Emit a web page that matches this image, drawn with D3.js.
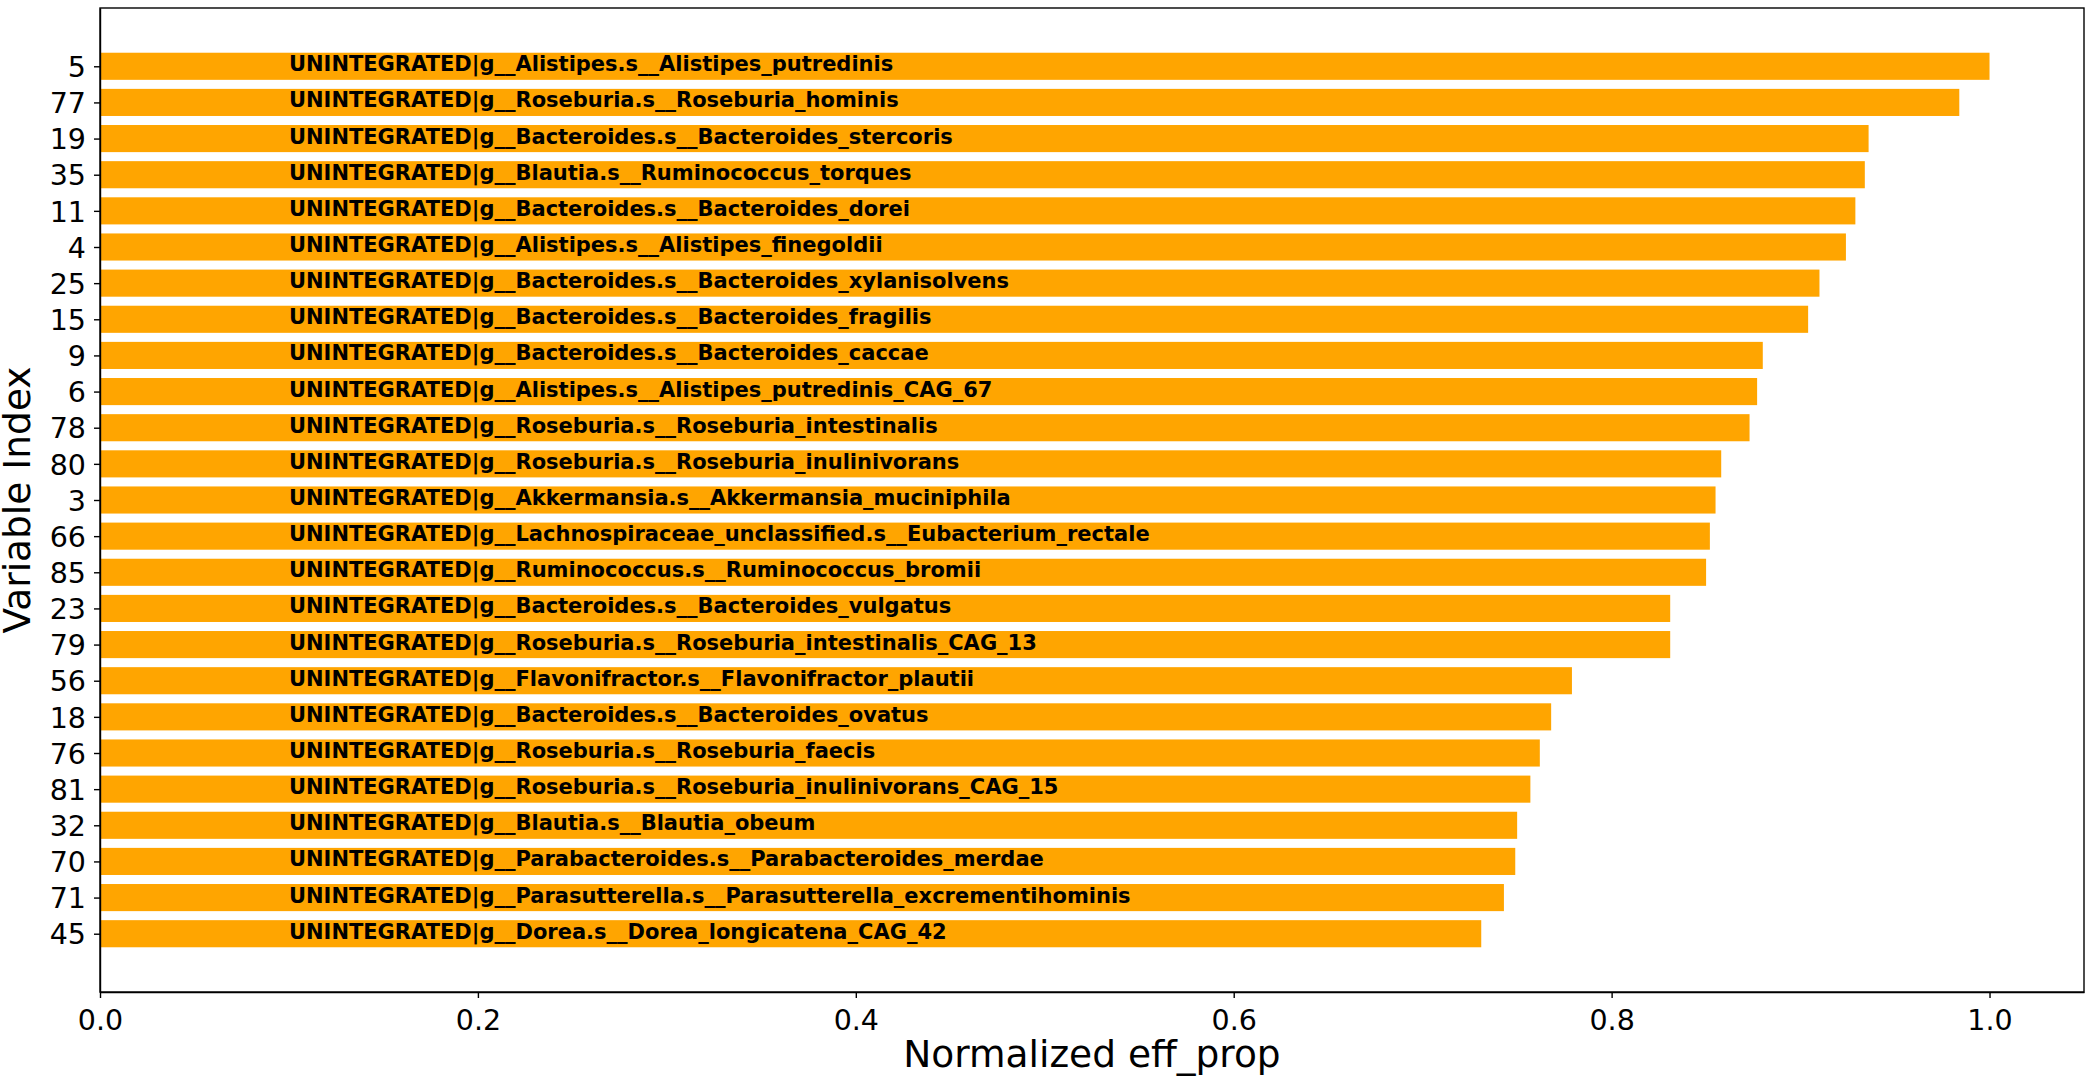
<!DOCTYPE html>
<html lang="en">
<head>
    <meta charset="UTF-8">
    <title>Normalized eff_prop</title>
    <script src="https://d3js.org/d3.v7.min.js"></script>
    <style>
        body { margin: 0; background: #fff; }
        svg text { font-family: "DejaVu Sans", sans-serif; fill: #000; }
        .axis path, .axis line { stroke: #000; stroke-width: 1.4px; }
        .axis text { font-size: 28.5px; }
        .bar-label { font-size: 21px; font-weight: bold; }
        .axis-title { font-size: 37.5px; }
    </style>
</head>
<body>
    <div id="chart"></div>
    <script>
        // values, top bar first
        const varIndex = [5, 77, 19, 35, 11, 4, 25, 15, 9, 6, 78, 80, 3, 66, 85, 23, 79, 56, 18, 76, 81, 32, 70, 71, 45];

        const featureNames = [
            "UNINTEGRATED|g__Alistipes.s__Alistipes_putredinis",
            "UNINTEGRATED|g__Roseburia.s__Roseburia_hominis",
            "UNINTEGRATED|g__Bacteroides.s__Bacteroides_stercoris",
            "UNINTEGRATED|g__Blautia.s__Ruminococcus_torques",
            "UNINTEGRATED|g__Bacteroides.s__Bacteroides_dorei",
            "UNINTEGRATED|g__Alistipes.s__Alistipes_finegoldii",
            "UNINTEGRATED|g__Bacteroides.s__Bacteroides_xylanisolvens",
            "UNINTEGRATED|g__Bacteroides.s__Bacteroides_fragilis",
            "UNINTEGRATED|g__Bacteroides.s__Bacteroides_caccae",
            "UNINTEGRATED|g__Alistipes.s__Alistipes_putredinis_CAG_67",
            "UNINTEGRATED|g__Roseburia.s__Roseburia_intestinalis",
            "UNINTEGRATED|g__Roseburia.s__Roseburia_inulinivorans",
            "UNINTEGRATED|g__Akkermansia.s__Akkermansia_muciniphila",
            "UNINTEGRATED|g__Lachnospiraceae_unclassified.s__Eubacterium_rectale",
            "UNINTEGRATED|g__Ruminococcus.s__Ruminococcus_bromii",
            "UNINTEGRATED|g__Bacteroides.s__Bacteroides_vulgatus",
            "UNINTEGRATED|g__Roseburia.s__Roseburia_intestinalis_CAG_13",
            "UNINTEGRATED|g__Flavonifractor.s__Flavonifractor_plautii",
            "UNINTEGRATED|g__Bacteroides.s__Bacteroides_ovatus",
            "UNINTEGRATED|g__Roseburia.s__Roseburia_faecis",
            "UNINTEGRATED|g__Roseburia.s__Roseburia_inulinivorans_CAG_15",
            "UNINTEGRATED|g__Blautia.s__Blautia_obeum",
            "UNINTEGRATED|g__Parabacteroides.s__Parabacteroides_merdae",
            "UNINTEGRATED|g__Parasutterella.s__Parasutterella_excrementihominis",
            "UNINTEGRATED|g__Dorea.s__Dorea_longicatena_CAG_42"
        ];

        const effProp = [1.000, 0.984, 0.936, 0.934, 0.929, 0.924, 0.910, 0.904, 0.880, 0.877,
                         0.873, 0.858, 0.855, 0.852, 0.850, 0.831, 0.831, 0.779, 0.768, 0.762,
                         0.757, 0.750, 0.749, 0.743, 0.731];

        const xTicks = [0.0, 0.2, 0.4, 0.6, 0.8, 1.0];

        const width = 2094, height = 1083;
        const margin = {top: 8, right: 10, bottom: 91, left: 100};
        const barHeight = 0.75;
        const n = varIndex.length;

        const svg = d3.select("#chart").append("svg")
            .attr("width", width)
            .attr("height", height);

        const x = d3.scaleLinear()
            .domain([0, 1.05])
            .range([margin.left, width - margin.right]);

        // matplotlib-style inverted category axis with 5% margins
        const pad = (n - 1 + barHeight) * 0.05 + barHeight / 2;
        const y = d3.scaleLinear()
            .domain([-pad, n - 1 + pad])
            .range([margin.top, height - margin.bottom]);

        svg.append("g")
            .selectAll("rect")
            .data(effProp)
            .enter().append("rect")
            .attr("x", x(0))
            .attr("y", (d, i) => y(i - barHeight / 2))
            .attr("width", d => x(d) - x(0))
            .attr("height", y(barHeight) - y(0))
            .attr("fill", "#FFA500");

        svg.append("g")
            .selectAll("text")
            .data(featureNames)
            .enter().append("text")
            .attr("class", "bar-label")
            .attr("x", x(0.1))
            .attr("y", (d, i) => y(i) + 5)
            .text(d => d);

        const xAxis = svg.append("g")
            .attr("class", "axis")
            .attr("transform", `translate(0,${height - margin.bottom})`)
            .call(d3.axisBottom(x).tickValues(xTicks).tickFormat(d3.format(".1f")).tickSize(6).tickPadding(6).tickSizeOuter(0));

        const yAxis = svg.append("g")
            .attr("class", "axis")
            .attr("transform", `translate(${margin.left},0)`)
            .call(d3.axisLeft(y).tickValues(d3.range(n)).tickFormat(i => varIndex[i]).tickSize(6).tickPadding(8).tickSizeOuter(0));

        xAxis.selectAll("text").attr("dy", "0.9em");
        yAxis.selectAll("text").attr("dy", "0.36em");

        // frame
        svg.append("rect")
            .attr("x", margin.left)
            .attr("y", margin.top)
            .attr("width", width - margin.right - margin.left)
            .attr("height", height - margin.bottom - margin.top)
            .attr("fill", "none")
            .attr("stroke", "#000")
            .attr("stroke-width", 1.4);

        svg.append("text")
            .attr("class", "axis-title")
            .attr("x", (margin.left + width - margin.right) / 2)
            .attr("y", 1067)
            .attr("text-anchor", "middle")
            .text("Normalized eff_prop");

        svg.append("text")
            .attr("class", "axis-title")
            .attr("transform", `translate(30,${(margin.top + height - margin.bottom) / 2}) rotate(-90)`)
            .attr("text-anchor", "middle")
            .text("Variable Index");
    </script>
</body>
</html>
